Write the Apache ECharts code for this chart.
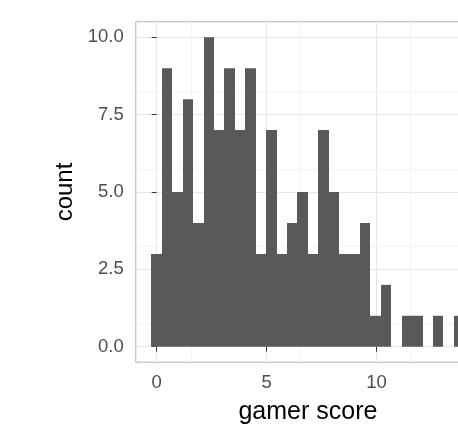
<!DOCTYPE html>
<html>
<head>
<meta charset="utf-8">
<script src="https://cdn.jsdelivr.net/npm/echarts@6/dist/echarts.min.js"></script>
<style>
  html, body { margin: 0; padding: 0; background: #ffffff; overflow: hidden; width: 458px; height: 431px; }
  /* the plot panel runs on past the right edge of the page */
  #chart { width: 500px; height: 431px; }
</style>
</head>
<body>
<div id="chart"></div>
<script>
// Histogram of gamer scores: 30 bins, the first one centred on 0.
const binStart = 0;          // centre of the first bin
const binWidth = 0.474;      // width of each bin
const counts = [3, 9, 5, 8, 4, 10, 7, 9, 7, 9, 3, 7, 3, 4, 5, 3, 7, 5, 3, 3, 4, 1, 2, 0, 1, 1, 0, 1, 0, 1];
const xTicks = [0, 5, 10];
const yTicks = [0, 2.5, 5, 7.5, 10];

const bins = counts.map((c, i) => [binStart + i * binWidth, c]);

const chart = echarts.init(document.getElementById('chart'), null, { renderer: 'canvas' });

const font = 'Liberation Sans, Arial, sans-serif';
const tickLabel = { color: '#4d4d4d', fontSize: 18.5, fontFamily: font };

chart.setOption({
  animation: false,
  backgroundColor: '#ffffff',
  grid: {
    left: 135.8, top: 21.8, width: 344.2, height: 340.4,
    show: true, borderColor: '#b3b3b3', borderWidth: 1, backgroundColor: '#ffffff'
  },
  xAxis: {
    type: 'value', min: -0.948, max: 14.7,
    name: 'gamer score', nameLocation: 'middle', nameGap: 37,
    nameTextStyle: { color: '#000000', fontSize: 25, fontFamily: font },
    axisLine: { show: false },
    axisTick: { show: true, length: 5, lineStyle: { color: '#333333' }, customValues: xTicks },
    axisLabel: Object.assign({ margin: 11, customValues: xTicks }, tickLabel),
    splitLine: { show: true, lineStyle: { color: '#e6e6e6', width: 1 } },
    minorTick: { show: false, splitNumber: 2 },
    minorSplitLine: { show: true, lineStyle: { color: '#f3f3f3', width: 1 } },
    interval: 5
  },
  yAxis: {
    type: 'value', min: -0.5, max: 10.5,
    name: 'count', nameLocation: 'middle', nameGap: 58, nameRotate: 90,
    nameTextStyle: { color: '#000000', fontSize: 24, fontFamily: font },
    axisLine: { show: false },
    axisTick: { show: true, length: 5, lineStyle: { color: '#333333' }, customValues: yTicks },
    axisLabel: Object.assign({ margin: 12, customValues: yTicks, formatter: v => v.toFixed(1) }, tickLabel),
    splitLine: { show: true, lineStyle: { color: '#e6e6e6', width: 1 } },
    minorTick: { show: false, splitNumber: 2 },
    minorSplitLine: { show: true, lineStyle: { color: '#f3f3f3', width: 1 } },
    interval: 2.5
  },
  series: [{
    type: 'custom',
    data: bins,
    renderItem: function (params, api) {
      const x = api.value(0);
      const c = api.value(1);
      if (!c) return null;
      const p0 = api.coord([x - binWidth / 2, c]);
      const p1 = api.coord([x + binWidth / 2, 0]);
      // snap bin edges to whole pixels so neighbouring bars meet without seams
      const x0 = Math.round(p0[0]);
      const x1 = Math.round(p1[0]);
      return {
        type: 'rect',
        shape: { x: x0, y: p0[1], width: x1 - x0, height: p1[1] - p0[1] },
        style: { fill: '#595959' }
      };
    }
  }]
});
</script>
</body>
</html>
